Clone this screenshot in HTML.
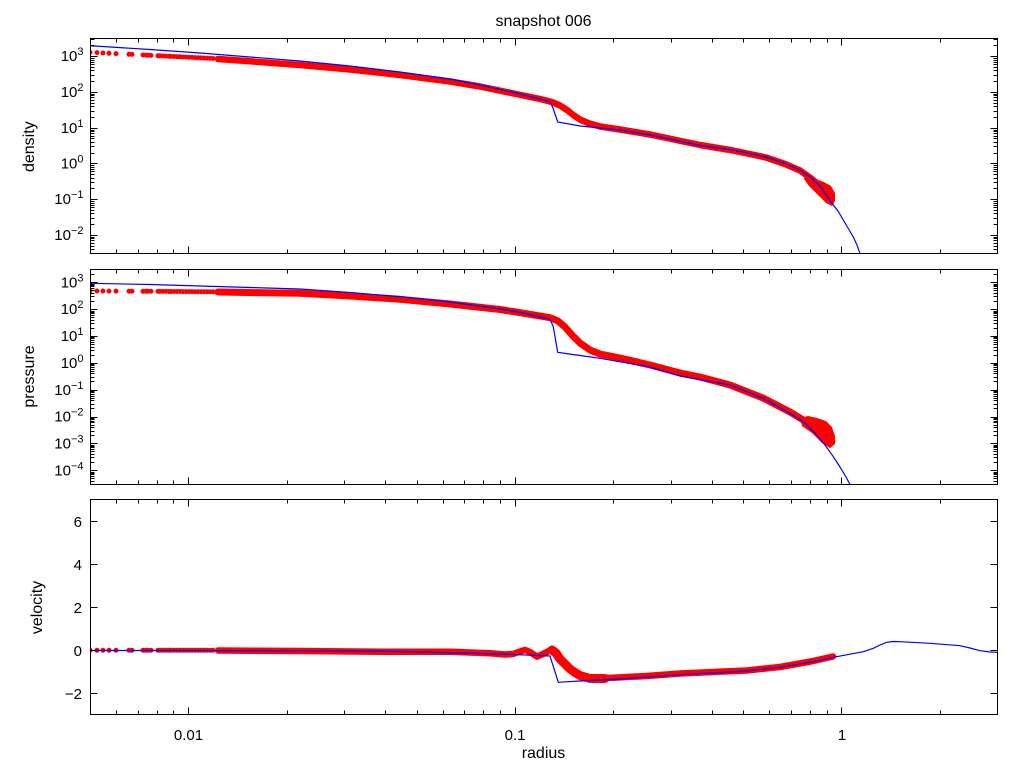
<!DOCTYPE html>
<html><head><meta charset="utf-8"><style>
html,body{margin:0;padding:0;background:#fff;}
svg{display:block;}
text{font-family:"Liberation Sans",Arial,sans-serif;fill:#000;}
</style></head><body>
<svg width="1024" height="768" viewBox="0 0 1024 768" xmlns="http://www.w3.org/2000/svg">
<rect width="1024" height="768" fill="#fff"/>
<defs>
<clipPath id="c1"><rect x="90.5" y="38.5" width="907" height="215"/></clipPath>
<clipPath id="c2"><rect x="90.5" y="269.5" width="907" height="215"/></clipPath>
<clipPath id="c3"><rect x="90.5" y="499.5" width="907" height="215"/></clipPath>
</defs>

<!-- ===== DATA panel 1 (density) ===== -->
<g clip-path="url(#c1)">
<path fill="none" stroke="#ff0000" stroke-width="5" stroke-linecap="round" d="M90 52.3h0M97 52.6h0M103 53h0M109 53.3h0M116 53.6h0M129 54.3h0M132 54.4h0M143 55h0M146 55.1h0M148 55.2h0M151 55.4h0M158 55.7h0M160 55.8h0M163 56h0M166 56.1h0M169 56.3h0M171 56.4h0M174 56.5h0M177 56.7h0M180 56.8h0M183 57h0M186 57.1h0M189 57.3h0M192 57.4h0M195 57.6h0M198 57.7h0M201 57.9h0M204 58h0M207 58.2h0M210 58.3h0M213 58.5h0"/>
<polyline fill="none" stroke="#ff0000" stroke-width="6.5" stroke-linecap="round" stroke-linejoin="round" points="218,59 250,61.3 300,65 350,69.5 400,75 450,81.5 480,86.5 516,94 540,99 552,102 560,105.5 567,110 574,115.5 580,119.5 588,123 600,126.5 620,129.5 650,134.5 700,145 733,150.5 766,157.5 785,164 800,170.5 812,179 822,188 830,196"/>
<polygon fill="#ff0000" points="806,173 815,179 824,182 831,186 835,193 835,201 832,206 826,203 818,195 809,186 804,179"/>
<polyline fill="none" stroke="#0000ff" stroke-width="1.2" points="90,45.7 150,49.5 200,53 250,57 300,61 350,66 400,72 450,79 480,85 516,93 540,99 550,101.7 553,108 557.7,122 580,126 620,130 650,135 700,145.5 733,150 766,157 785,163.5 800,170 810,177 820,186 831.7,203 838,211 843.3,220 848,228 853.3,237 857,245 860,253.5 861,258"/>
</g>

<!-- ===== DATA panel 2 (pressure) ===== -->
<g clip-path="url(#c2)">
<path fill="none" stroke="#ff0000" stroke-width="5" stroke-linecap="round" d="M90 291h0M97 291h0M103 291h0M109 291.1h0M116 291.1h0M129 291.2h0M132 291.2h0M143 291.3h0M146 291.3h0M148 291.3h0M151 291.3h0M158 291.4h0M160 291.4h0M163 291.4h0M166 291.4h0M169 291.5h0M171 291.5h0M174 291.5h0M177 291.5h0M180 291.5h0M183 291.6h0M186 291.6h0M189 291.6h0M192 291.6h0M195 291.7h0M198 291.7h0M201 291.7h0M204 291.7h0M207 291.8h0M210 291.8h0M213 291.8h0"/>
<polyline fill="none" stroke="#ff0000" stroke-width="7" stroke-linecap="round" stroke-linejoin="round" points="218,292 300,293.3 350,296 400,299.3 450,304 500,309.5 516,312 550,317.7 558,321 565,327 572,335 580,343 590,350 600,354 620,358 650,365 680,373 700,377 730,385 763,398 790,412 805,421 820,430 832,441"/>
<polygon fill="#ff0000" points="800,418 808,416 817,418 826,421 832,427 835,436 835,444 830,448 822,443 812,433 802,426"/>
<polyline fill="none" stroke="#0000ff" stroke-width="1.2" points="90,283.3 150,284.5 200,286 250,287.5 300,289 350,292.5 400,296.7 450,302 500,309 516,311.5 550,319.3 553.3,326.7 557.7,352.3 580,355.5 600,358.3 650,367 680,376 730,385 763,398.3 790,413.3 805,423 816.7,435 825,445 833.3,456.7 840,467 846,477 850,484.5 851,488"/>
</g>

<!-- ===== DATA panel 3 (velocity) ===== -->
<g clip-path="url(#c3)">
<path fill="none" stroke="#ff0000" stroke-width="5" stroke-linecap="round" d="M90 650.3h0M97 650.3h0M103 650.3h0M109 650.3h0M116 650.3h0M129 650.3h0M132 650.3h0M143 650.3h0M146 650.3h0M148 650.3h0M151 650.3h0M158 650.3h0M160 650.3h0M163 650.3h0M166 650.3h0M169 650.3h0M171 650.3h0M174 650.3h0M177 650.3h0M180 650.3h0M183 650.3h0M186 650.3h0M189 650.3h0M192 650.3h0M195 650.3h0M198 650.3h0M201 650.3h0M204 650.3h0M207 650.3h0M210 650.3h0M213 650.3h0"/>
<polyline fill="none" stroke="#ff0000" stroke-width="6.5" stroke-linecap="round" stroke-linejoin="round" points="218,650.5 300,651 380,651.7 450,651.7 490,653.3 505,654.5 513,654 520,651.5 525,650 530,652 537,656.7 545,653 552,649.3 556,652 560,658.3 565,663 570,668.3 575,672 580,675 590,678 613,677.7 646.7,676 680,673.5 746.7,670.5 780,667 813.3,661 833,656.5"/>
<polyline fill="none" stroke="#ff0000" stroke-width="9" stroke-linecap="round" stroke-linejoin="round" points="552,650 556,653 560,659 565,664 570,669 575,672.5 580,675.5 590,678.5 605,678.5"/>
<polyline fill="none" stroke="#0000ff" stroke-width="1.2" points="90,650.5 300,650.7 400,651.5 500,654 550,656 558.3,682.3 580,681 620,679 680,674.7 746.7,671 780,667.3 813.3,661.7 833.3,657.3 863.3,651.7 873.3,648.3 880,645 886.7,642.3 893,641.5 900,641.7 930,643.3 960,645.7 970,648 980,650.7 990,652 997,652.3"/>
</g>

<!-- ===== FRAMES ===== -->
<g fill="none" stroke="#000" stroke-width="1">
<rect x="90.5" y="38.5" width="907" height="215"/>
<rect x="90.5" y="269.5" width="907" height="215"/>
<rect x="90.5" y="499.5" width="907" height="215"/>
</g>

<!-- ===== X TICKS ===== -->
<g fill="none" stroke="#000" stroke-width="1">
<path id="xt" d="M188.5 38.5v7M515.5 38.5v7M841.5 38.5v7M188.5 253.5v-7M515.5 253.5v-7M841.5 253.5v-7
M116.5 38.5v4M138.5 38.5v4M157.5 38.5v4M173.5 38.5v4M287.5 38.5v4M344.5 38.5v4M385.5 38.5v4M417.5 38.5v4M443.5 38.5v4M464.5 38.5v4M483.5 38.5v4M500.5 38.5v4M613.5 38.5v4M671.5 38.5v4M712.5 38.5v4M743.5 38.5v4M769.5 38.5v4M791.5 38.5v4M810.5 38.5v4M827.5 38.5v4M940.5 38.5v4
M116.5 253.5v-4M138.5 253.5v-4M157.5 253.5v-4M173.5 253.5v-4M287.5 253.5v-4M344.5 253.5v-4M385.5 253.5v-4M417.5 253.5v-4M443.5 253.5v-4M464.5 253.5v-4M483.5 253.5v-4M500.5 253.5v-4M613.5 253.5v-4M671.5 253.5v-4M712.5 253.5v-4M743.5 253.5v-4M769.5 253.5v-4M791.5 253.5v-4M810.5 253.5v-4M827.5 253.5v-4M940.5 253.5v-4"/>
<use href="#xt" transform="translate(0,231)"/>
<use href="#xt" transform="translate(0,461)"/>

<!-- density y ticks -->
<path id="yd" d="M90.5 56.5h7M90.5 92.5h7M90.5 128.5h7M90.5 163.5h7M90.5 199.5h7M90.5 235.5h7
M90.5 249.5h4M90.5 246.5h4M90.5 243.5h4M90.5 240.5h4M90.5 238.5h4M90.5 237.5h4
M90.5 224.5h4M90.5 218.5h4M90.5 213.5h4M90.5 210.5h4M90.5 207.5h4M90.5 205.5h4M90.5 203.5h4M90.5 201.5h4
M90.5 188.5h4M90.5 182.5h4M90.5 178.5h4M90.5 174.5h4M90.5 171.5h4M90.5 169.5h4M90.5 167.5h4M90.5 165.5h4
M90.5 153.5h4M90.5 146.5h4M90.5 142.5h4M90.5 138.5h4M90.5 136.5h4M90.5 133.5h4M90.5 131.5h4M90.5 130.5h4
M90.5 117.5h4M90.5 111.5h4M90.5 106.5h4M90.5 103.5h4M90.5 100.5h4M90.5 97.5h4M90.5 95.5h4M90.5 94.5h4
M90.5 81.5h4M90.5 75.5h4M90.5 70.5h4M90.5 67.5h4M90.5 64.5h4M90.5 62.5h4M90.5 60.5h4M90.5 58.5h4
M90.5 45.5h4M90.5 39.5h4"/>
<use href="#yd" transform="translate(1088,0) scale(-1,1)"/>

<!-- pressure y ticks -->
<path id="yp" d="M90.5 282.5h7M90.5 309.5h7M90.5 336.5h7M90.5 363.5h7M90.5 390.5h7M90.5 417.5h7M90.5 443.5h7M90.5 470.5h7
M90.5 481.5h4M90.5 478.5h4M90.5 476.5h4M90.5 474.5h4M90.5 473.5h4M90.5 472.5h4
M90.5 462.5h4M90.5 457.5h4M90.5 454.5h4M90.5 451.5h4M90.5 449.5h4M90.5 447.5h4M90.5 446.5h4M90.5 445.5h4
M90.5 435.5h4M90.5 431.5h4M90.5 427.5h4M90.5 425.5h4M90.5 422.5h4M90.5 421.5h4M90.5 419.5h4M90.5 418.5h4
M90.5 408.5h4M90.5 404.5h4M90.5 400.5h4M90.5 398.5h4M90.5 396.5h4M90.5 394.5h4M90.5 392.5h4M90.5 391.5h4
M90.5 381.5h4M90.5 377.5h4M90.5 373.5h4M90.5 371.5h4M90.5 369.5h4M90.5 367.5h4M90.5 365.5h4M90.5 364.5h4
M90.5 355.5h4M90.5 350.5h4M90.5 347.5h4M90.5 344.5h4M90.5 342.5h4M90.5 340.5h4M90.5 338.5h4M90.5 337.5h4
M90.5 328.5h4M90.5 323.5h4M90.5 320.5h4M90.5 317.5h4M90.5 315.5h4M90.5 313.5h4M90.5 312.5h4M90.5 311.5h4
M90.5 301.5h4M90.5 296.5h4M90.5 293.5h4M90.5 290.5h4M90.5 288.5h4M90.5 286.5h4M90.5 285.5h4M90.5 284.5h4
M90.5 274.5h4"/>
<use href="#yp" transform="translate(1088,0) scale(-1,1)"/>

<!-- velocity y ticks -->
<path id="yv" d="M90.5 521.5h7M90.5 564.5h7M90.5 607.5h7M90.5 650.5h7M90.5 693.5h7"/>
<use href="#yv" transform="translate(1088,0) scale(-1,1)"/>
</g>

<!-- ===== TEXT ===== -->
<text x="543.5" y="26" font-size="16" text-anchor="middle">snapshot 006</text>

<g font-size="15" text-anchor="end">
<text x="83.5" y="61">10<tspan dy="-6" font-size="11">3</tspan></text>
<text x="83.5" y="97">10<tspan dy="-6" font-size="11">2</tspan></text>
<text x="83.5" y="133">10<tspan dy="-6" font-size="11">1</tspan></text>
<text x="83.5" y="168.5">10<tspan dy="-6" font-size="11">0</tspan></text>
<text x="83.5" y="204">10<tspan dy="-6" font-size="11">−1</tspan></text>
<text x="83.5" y="240">10<tspan dy="-6" font-size="11">−2</tspan></text>

<text x="83.5" y="287.5">10<tspan dy="-6" font-size="11">3</tspan></text>
<text x="83.5" y="314">10<tspan dy="-6" font-size="11">2</tspan></text>
<text x="83.5" y="341">10<tspan dy="-6" font-size="11">1</tspan></text>
<text x="83.5" y="368">10<tspan dy="-6" font-size="11">0</tspan></text>
<text x="83.5" y="395">10<tspan dy="-6" font-size="11">−1</tspan></text>
<text x="83.5" y="421.5">10<tspan dy="-6" font-size="11">−2</tspan></text>
<text x="83.5" y="448.5">10<tspan dy="-6" font-size="11">−3</tspan></text>
<text x="83.5" y="475.5">10<tspan dy="-6" font-size="11">−4</tspan></text>

<text x="82" y="527">6</text>
<text x="82" y="570">4</text>
<text x="82" y="613">2</text>
<text x="82" y="656">0</text>
<text x="82" y="699">−2</text>
</g>

<g font-size="15" text-anchor="middle">
<text x="188.5" y="740">0.01</text>
<text x="515" y="740">0.1</text>
<text x="842" y="740">1</text>
</g>
<text x="543.5" y="758" font-size="16" text-anchor="middle">radius</text>

<g font-size="16" text-anchor="middle">
<text transform="translate(34,146.7) rotate(-90)">density</text>
<text transform="translate(34,376.5) rotate(-90)">pressure</text>
<text transform="translate(42,607.5) rotate(-90)">velocity</text>
</g>
</svg>
</body></html>
